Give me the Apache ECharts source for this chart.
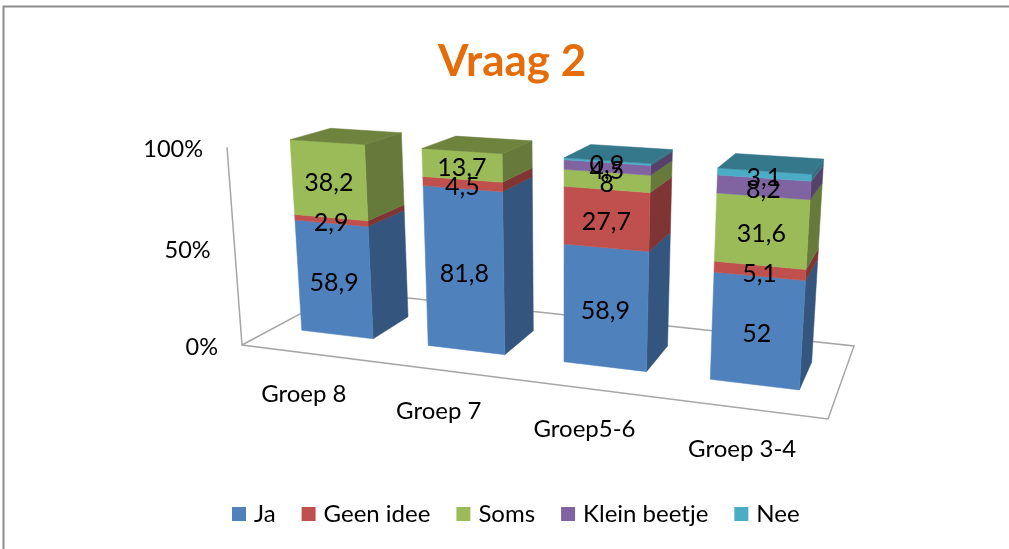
<!DOCTYPE html>
<html>
<head>
<meta charset="utf-8">
<title>Vraag 2</title>
<style>
html, body { margin: 0; padding: 0; background: #fff; }
#chart { width: 1009px; height: 549px; }
</style>
<script src="https://cdn.jsdelivr.net/npm/echarts@6/dist/echarts.min.js"></script>
</head>
<body>
<div id="chart"></div>
<script>
var categories = ['Groep 8', 'Groep 7', 'Groep5-6', 'Groep 3-4'];
var ja = [58.9, 81.8, 58.9, 52];
var geenIdee = [2.9, 4.5, 27.7, 5.1];
var soms = [38.2, 13.7, 8, 31.6];
var kleinBeetje = [null, null, 4.5, 8.2];
var nee = [null, null, 0.9, 3.1];
var yTicks = [0, 50, 100];
var seriesNames = ['Ja', 'Geen idee', 'Soms', 'Klein beetje', 'Nee'];
var seriesValues = [ja, geenIdee, soms, kleinBeetje, nee];
var seriesColors = ['#4F81BD', '#C0504D', '#9BBB59', '#8064A2', '#4BACC6'];

var fontName = 'Lato';

// perspective of the plot box: unit floor (x, z) and height y to screen pixels
function project(x, y, z) {
	var w = -0.1442 * x + 0.1541 * z - 0.0446 * y + 1;
	var u = 466.6 * x + 153.9 * z - 25.1 * y + 242;
	var v = 13.6 * x - 9.2 * z - 204.2 * y + 345;
	return [u / w, v / w];
}
// a value on the hidden axes to unit coordinates of the box
function toUnit(params, api, cat, val) {
	var p = api.coord([cat, val]);
	var cs = params.coordSys;
	return [(p[0] - cs.x) / cs.width, (cs.y + cs.height - p[1]) / cs.height];
}
function shade(hex, k) {
	var c = echarts.color.parse(hex);
	return 'rgb(' + Math.round(c[0] * k) + ',' + Math.round(c[1] * k) + ',' + Math.round(c[2] * k) + ')';
}
function face(pts, color) {
	return {
		type: 'polygon',
		shape: { points: pts },
		style: { fill: color, stroke: color, lineWidth: 0.5 }
	};
}

var zFront = 0.30, zBack = 0.69, barRatio = 0.57;

// bars sit a little left of the band centres, more so to the right
function barCentre(x) {
	return x + 0.001 - 0.006 * x;
}

function renderSegment(params, api) {
	var color = seriesColors[params.seriesIndex];
	var cat = api.value(0), start = api.value(1), end = api.value(2);
	var a = toUnit(params, api, cat, start);
	var b = toUnit(params, api, cat, end);
	var half = api.size([1, 0])[0] / params.coordSys.width * barRatio / 2;
	var xl = barCentre(a[0]) - half, xr = barCentre(a[0]) + half;
	var children = [
		face([project(xr, a[1], zFront), project(xr, a[1], zBack), project(xr, b[1], zBack), project(xr, b[1], zFront)], shade(color, 0.66)),
		face([project(xl, a[1], zFront), project(xr, a[1], zFront), project(xr, b[1], zFront), project(xl, b[1], zFront)], color)
	];
	if (end >= 99.95) {
		children.push(face([project(xl, b[1], zFront), project(xr, b[1], zFront), project(xr, b[1], zBack), project(xl, b[1], zBack)], shade(color, 0.7)));
	}
	return { type: 'group', children: children };
}

function renderValueLabel(params, api) {
	var cat = api.value(0), start = api.value(1), end = api.value(2);
	var u = toUnit(params, api, cat, (start + end) / 2);
	var p = project(barCentre(u[0]), u[1], zFront);
	return {
		type: 'text',
		style: {
			x: p[0], y: p[1] + 3,
			text: String(api.value(3)).replace('.', ','),
			fill: '#000', font: '25px ' + fontName,
			align: 'center', verticalAlign: 'middle'
		}
	};
}

function renderBox(params, api) {
	var lineStyle = { stroke: '#A6A6A6', lineWidth: 1.5, fill: null };
	var top = toUnit(params, api, 0, 100)[1];
	return {
		type: 'group',
		children: [
			{ type: 'polyline', shape: { points: [project(0, top, 0), project(0, 0, 0), project(1, 0, 0), project(1, 0, 1), project(0, 0, 1), project(0, 0, 0)] }, style: lineStyle }
		]
	};
}

function renderCategoryLabel(params, api) {
	var u = toUnit(params, api, api.value(0), 0);
	var p = project(u[0], 0, 0);
	return {
		type: 'text',
		style: {
			x: p[0] - 2, y: p[1] + 41,
			text: categories[api.value(0)],
			fill: '#000', font: '24px ' + fontName,
			align: 'center', verticalAlign: 'middle'
		}
	};
}

function renderTickLabel(params, api) {
	var val = api.value(1);
	var u = toUnit(params, api, 0, val);
	var p = project(0, u[1], 0);
	return {
		type: 'text',
		style: {
			x: p[0] - 24, y: p[1] + 2,
			text: val + '%',
			fill: '#000', font: '23.5px ' + fontName,
			align: 'right', verticalAlign: 'middle'
		}
	};
}

// one custom series per answer, stacked by hand
var base = categories.map(function () { return 0; });
var labelData = [];
var series = seriesNames.map(function (name, s) {
	var rows = [];
	seriesValues[s].forEach(function (v, c) {
		if (v === null) return;
		rows.push([c, base[c], base[c] + v]);
		labelData.push([c, base[c], base[c] + v, v]);
		base[c] += v;
	});
	return {
		name: name,
		type: 'custom',
		renderItem: renderSegment,
		itemStyle: { color: seriesColors[s] },
		encode: { x: 0, y: 2 },
		silent: true,
		z: 3,
		data: rows
	};
});

series.push({
	type: 'custom', renderItem: renderBox, silent: true, z: 1,
	encode: { x: 0, y: 1 }, data: [[0, 0]]
});
series.push({
	type: 'custom', renderItem: renderValueLabel, silent: true, z: 5,
	encode: { x: 0, y: 2 }, data: labelData
});
series.push({
	type: 'custom', renderItem: renderCategoryLabel, silent: true, z: 5,
	encode: { x: 0, y: 1 }, data: categories.map(function (c, i) { return [i, 0]; })
});
series.push({
	type: 'custom', renderItem: renderTickLabel, silent: true, z: 5,
	encode: { x: 0, y: 1 }, data: yTicks.map(function (t) { return [0, t]; })
});

var myChart = echarts.init(document.getElementById('chart'));
myChart.setOption({
	animation: false,
	backgroundColor: '#fff',
	title: {
		text: 'Vraag 2',
		left: 433,
		top: 35,
		textStyle: { color: '#E46C0A', fontFamily: fontName, fontWeight: 'bold', fontSize: 44 }
	},
	legend: {
		data: seriesNames.map(function (n) { return { name: n, icon: 'rect' }; }),
		left: 227,
		top: 497,
		itemWidth: 14,
		itemHeight: 14,
		itemGap: 26,
		selectedMode: false,
		textStyle: { color: '#000', fontFamily: fontName, fontSize: 24, padding: [0, 0, 0, 3] }
	},
	grid: { left: 100, right: 100, top: 100, bottom: 100, show: false },
	xAxis: { type: 'category', data: categories, show: false },
	yAxis: { type: 'value', min: 0, max: 100, interval: 50, show: false },
	graphic: [{
		type: 'polyline',
		shape: { points: [[3.5, 549], [3.5, 6.5], [1009, 6.5]] },
		style: { stroke: '#8C8C8C', lineWidth: 2, fill: null },
		silent: true
	}],
	series: series
});
</script>
</body>
</html>
